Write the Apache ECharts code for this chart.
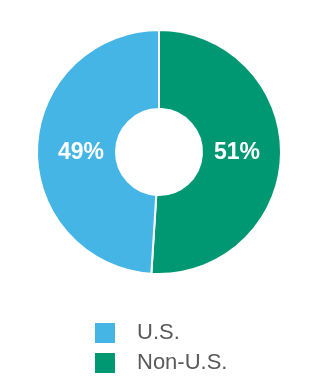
<!DOCTYPE html>
<html><head><meta charset="utf-8">
<script src="https://cdn.jsdelivr.net/npm/echarts@6/dist/echarts.min.js"></script>
<style>html,body{margin:0;padding:0;background:#fff;}#c{width:320px;height:380px;}</style>
</head><body><div id="c"></div>
<script>
const categories = ['Non-U.S.', 'U.S.'];
const values = [51, 49];
const colors = ['#009873', '#45b5e6'];
const legendOrder = ['U.S.', 'Non-U.S.'];

const chart = echarts.init(document.getElementById('c'), null, {renderer: 'canvas'});
chart.setOption({
  animation: false,
  color: colors,
  legend: {
    data: legendOrder,
    orient: 'vertical',
    left: 93,
    top: 321,
    padding: 0,
    itemWidth: 22,
    itemHeight: 22,
    itemGap: 6,
    icon: 'rect',
    textStyle: {fontFamily: 'Liberation Sans, Arial', fontSize: 22, color: '#5a5a5a', padding: [0, 0, 0, 16]}
  },
  series: [{
    type: 'pie',
    center: [159, 152],
    radius: [43, 122],
    startAngle: 90,
    clockwise: true,
    itemStyle: {borderColor: '#fff', borderWidth: 2},
    label: {
      position: 'inside',
      formatter: '{c}%',
      color: '#fff',
      fontFamily: 'Liberation Sans, Arial',
      fontWeight: 'bold',
      fontSize: 23
    },
    labelLayout: function (p) {
      const cx = p.labelRect.x + p.labelRect.width / 2;
      const side = cx < 159 ? -1 : 1;
      return {x: 159 + side * 78, y: 153, align: 'center', verticalAlign: 'middle'};
    },
    labelLine: {show: false},
    data: categories.map((n, i) => ({name: n, value: values[i]}))
  }]
});
</script>
</body></html>
